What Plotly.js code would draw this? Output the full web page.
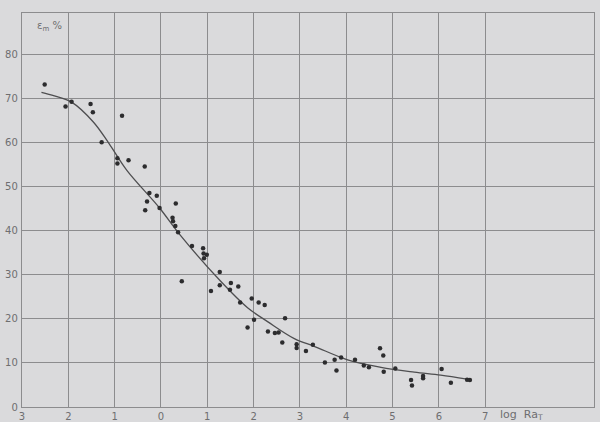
<!DOCTYPE html>
<html>
<head>
<meta charset="utf-8">
<script src="https://cdn.plot.ly/plotly-3.0.1.min.js"></script>
<style>html,body{margin:0;padding:0;background:#dadadc;}#chart{width:600px;height:422px;}</style>
</head>
<body>
<div id="chart"></div>
<script>
// measured points: log Ra_T vs epsilon_m (%)
const pointsX = [-2.51,-2.06,-1.93,-1.52,-1.47,-0.84,-1.28,-0.94,-0.94,-0.70,-0.35,
  -0.25,-0.09,-0.30,-0.34,-0.03,0.32,0.25,0.26,0.31,0.37,0.67,0.91,0.92,0.99,0.93,0.45,
  1.27,1.27,1.51,1.67,1.49,1.08,1.71,1.96,2.11,2.24,2.01,1.87,2.68,2.31,2.46,2.54,
  2.62,2.93,2.93,3.13,3.28,3.54,3.75,3.79,3.89,4.19,4.38,4.49,4.73,4.80,4.81,5.06,
  5.40,5.42,5.66,5.66,6.06,6.26,6.61,6.67];
const pointsY = [73.1,68.1,69.2,68.7,66.8,66.0,60.0,56.4,55.2,55.9,54.5,
  48.5,47.9,46.6,44.6,45.1,46.1,42.9,42.1,41.0,39.6,36.5,36.0,34.8,34.5,33.7,28.5,
  30.6,27.6,28.1,27.3,26.6,26.3,23.7,24.6,23.7,23.1,19.8,18.0,20.1,17.1,16.8,16.9,
  14.6,14.2,13.4,12.7,14.1,10.1,10.7,8.3,11.2,10.7,9.4,9.0,13.3,11.7,8.0,8.7,
  6.1,4.9,7.0,6.5,8.6,5.5,6.2,6.1];
// fitted curve
const curveX = [-2.58,-2.3,-1.93,-1.46,-1.12,-0.74,-0.03,0.39,1.28,1.87,2.31,2.88,3.32,4.03,4.75,5.47,6.04,6.61];
const curveY = [71.3,70.5,69.1,64.6,59.7,53.7,45.1,39.3,28.6,22.5,19.3,15.5,13.7,10.7,9.0,7.9,7.2,6.3];
// axis ticks (labels as printed)
const xTickVals = [-3,-2,-1,0,1,2,3,4,5,6,7];
const xTickText = ['3','2','1','0','1','2','3','4','5','6','7'];
const yTickVals = [0,10,20,30,40,50,60,70,80];

const gridCol = '#8c8c8e';
const txtCol = '#6e6e70';
const bg = '#dadadc';

const traces = [
  {x: curveX, y: curveY, mode: 'lines', type: 'scatter',
   line: {color: '#4e4e50', width: 1.3, shape: 'spline', smoothing: 1.0}, hoverinfo: 'skip'},
  {x: pointsX, y: pointsY, mode: 'markers', type: 'scatter',
   marker: {color: '#2c2c2e', size: 4.5}}
];

const layout = {
  width: 600, height: 422,
  margin: {l: 22, r: 6, t: 13, b: 15},
  paper_bgcolor: bg, plot_bgcolor: bg,
  showlegend: false,
  font: {family: 'DejaVu Sans, sans-serif', size: 10, color: txtCol},
  xaxis: {range: [-3, 9.35], tickvals: xTickVals, ticktext: xTickText,
    showgrid: true, gridcolor: gridCol, gridwidth: 1, zeroline: false,
    showline: true, linecolor: gridCol, linewidth: 1.2, mirror: true,
    ticks: '', ticklabelstandoff: 0, tickfont: {size: 10, color: txtCol}},
  yaxis: {range: [0, 89.3], tickvals: yTickVals,
    showgrid: true, gridcolor: gridCol, gridwidth: 1, zeroline: false,
    showline: true, linecolor: gridCol, linewidth: 1.2, mirror: true,
    ticks: '', ticklabelstandoff: 1, tickfont: {size: 10, color: txtCol}},
  annotations: [
    {x: -2.72, y: 86.2, xref: 'x', yref: 'y', text: 'ε<sub>m</sub> %', showarrow: false,
     xanchor: 'left', yanchor: 'middle', font: {size: 10, color: txtCol}},
    {x: 7.28, y: -0.02, xref: 'x', yref: 'paper', text: 'log  Ra<sub>T</sub>', showarrow: false,
     xanchor: 'left', yanchor: 'middle', font: {size: 11, color: txtCol}}
  ]
};

Plotly.newPlot('chart', traces, layout, {displayModeBar: false, staticPlot: true});
</script>
</body>
</html>
